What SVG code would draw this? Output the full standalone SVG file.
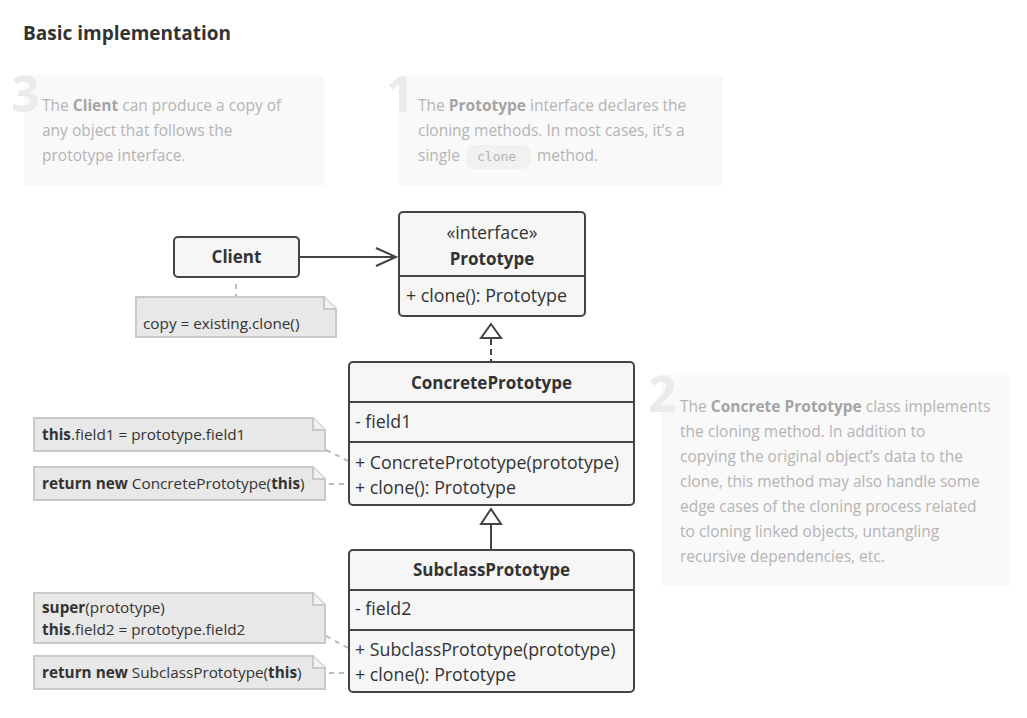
<svg xmlns="http://www.w3.org/2000/svg" width="1027" height="718" viewBox="0 0 1027 718">
<style>
.title{font-family:"Open Sans",Lato,sans-serif;font-weight:bold;font-size:19px;fill:#333}
.desc{font-family:"Open Sans",Lato,sans-serif;font-size:15.5px;fill:#b4b4b4}
.desc .b{font-weight:bold;fill:#a4a4a4}
.num{font-family:"Open Sans",Lato,sans-serif;font-weight:bold;font-size:50px;fill:#ebebeb}
.code{font-family:"DejaVu Sans Mono",monospace;font-size:13px;fill:#b4b4b4}
.panel{fill:#f9f9f9}
.box{fill:#f6f6f6;stroke:#444;stroke-width:2}
.div{stroke:#444;stroke-width:2}
.ct{font-family:"Open Sans",Lato,sans-serif;font-size:17.8px;fill:#333}
.ctb{font-family:"Open Sans",Lato,sans-serif;font-size:17px;font-weight:bold;fill:#333}
.note{fill:#e8e8e8;stroke:#c9c9c9;stroke-width:2}
.fold{fill:#f2f2f2;stroke:#c9c9c9;stroke-width:2}
.nt{font-family:"Open Sans",Lato,sans-serif;font-size:15.3px;fill:#333}
.nt .b{font-weight:bold}
.dash{stroke:#bbb;stroke-width:2;stroke-dasharray:5 5;fill:none}
.line{stroke:#444;stroke-width:2;fill:none}
</style>

<text class="title" x="23" y="40">Basic implementation</text>

<g id="desc3">
<rect class="panel" x="24" y="75" width="300" height="111"/>
<text class="num" x="11" y="112">3</text>
<text class="desc" x="42" y="111">The <tspan class="b">Client</tspan> can produce a copy of</text>
<text class="desc" x="42" y="136">any object that follows the</text>
<text class="desc" x="42" y="161">prototype interface.</text>
</g>

<g id="desc1">
<rect class="panel" x="399" y="75" width="324" height="111"/>
<text class="num" x="386" y="112">1</text>
<text class="desc" x="418" y="111">The <tspan class="b">Prototype</tspan> interface declares the</text>
<text class="desc" x="418" y="136">cloning methods. In most cases, it’s a</text>
<rect x="466" y="145" width="65" height="24" rx="8" fill="#f1f1f1"/>
<text class="desc" x="418" y="161">single</text>
<text class="code" x="477" y="161">clone</text>
<text class="desc" x="537" y="161">method.</text>
</g>

<g id="desc2">
<rect class="panel" x="661" y="375" width="349" height="211"/>
<text class="num" x="648" y="412">2</text>
<text class="desc" x="680" y="412">The <tspan class="b">Concrete Prototype</tspan> class implements</text>
<text class="desc" x="680" y="437">the cloning method. In addition to</text>
<text class="desc" x="680" y="462">copying the original object’s data to the</text>
<text class="desc" x="680" y="487">clone, this method may also handle some</text>
<text class="desc" x="680" y="512">edge cases of the cloning process related</text>
<text class="desc" x="680" y="537">to cloning linked objects, untangling</text>
<text class="desc" x="680" y="562">recursive dependencies, etc.</text>
</g>

<g id="connectors">
<line class="line" x1="300" y1="257" x2="396" y2="257"/>
<polyline class="line" points="376,248 396,257 376,266"/>
<line class="dash" x1="236" y1="284" x2="236" y2="297" stroke-dasharray="4 4"/>
<polygon points="491,324 501,338 481,338" fill="#fff" stroke="#444" stroke-width="2"/>
<line class="line" x1="491" y1="339" x2="491" y2="362" stroke-dasharray="6 4"/>
<polygon points="491,509 501,524 481,524" fill="#fff" stroke="#444" stroke-width="2"/>
<line class="line" x1="491" y1="525" x2="491" y2="550"/>
<line class="dash" x1="326" y1="450" x2="348" y2="461"/>
<line class="dash" x1="329" y1="484" x2="348" y2="484"/>
<line class="dash" x1="326" y1="636" x2="348" y2="648"/>
<line class="dash" x1="329" y1="673" x2="348" y2="673"/>
</g>

<g id="client">
<rect class="box" x="174" y="237" width="125" height="40" rx="4"/>
<text class="ctb" x="236.5" y="263" text-anchor="middle">Client</text>
</g>

<g id="note-client">
<path class="note" d="M136,297 H324 L336,309 V337 H136 Z"/>
<path class="fold" d="M324,297 V309 H336"/>
<text class="nt" x="143" y="329">copy = existing.clone()</text>
</g>

<g id="prototype">
<rect class="box" x="399" y="212" width="186" height="104" rx="4"/>
<line class="div" x1="399" y1="276" x2="585" y2="276"/>
<text class="ct" x="492" y="239" text-anchor="middle">«interface»</text>
<text class="ctb" x="492" y="265" text-anchor="middle">Prototype</text>
<text class="ct" x="406" y="302">+ clone(): Prototype</text>
</g>

<g id="concrete">
<rect class="box" x="349" y="362" width="285" height="143" rx="4"/>
<line class="div" x1="349" y1="402" x2="634" y2="402"/>
<line class="div" x1="349" y1="442" x2="634" y2="442"/>
<text class="ctb" x="491.5" y="389" text-anchor="middle">ConcretePrototype</text>
<text class="ct" x="355" y="428">- field1</text>
<text class="ct" x="355" y="469">+ ConcretePrototype(prototype)</text>
<text class="ct" x="355" y="494">+ clone(): Prototype</text>
</g>

<g id="subclass">
<rect class="box" x="349" y="550" width="285" height="142" rx="4"/>
<line class="div" x1="349" y1="590" x2="634" y2="590"/>
<line class="div" x1="349" y1="630" x2="634" y2="630"/>
<text class="ctb" x="491.5" y="576" text-anchor="middle">SubclassPrototype</text>
<text class="ct" x="355" y="615">- field2</text>
<text class="ct" x="355" y="656">+ SubclassPrototype(prototype)</text>
<text class="ct" x="355" y="681">+ clone(): Prototype</text>
</g>

<g id="note-field1">
<path class="note" d="M34,418 H313 L325,430 V451 H34 Z"/>
<path class="fold" d="M313,418 V430 H325"/>
<text class="nt" x="42" y="440"><tspan class="b">this</tspan>.field1 = prototype.field1</text>
</g>

<g id="note-concrete-clone">
<path class="note" d="M34,467 H313 L325,479 V500 H34 Z"/>
<path class="fold" d="M313,467 V479 H325"/>
<text class="nt" x="42" y="489"><tspan class="b">return new</tspan> ConcretePrototype(<tspan class="b">this</tspan>)</text>
</g>

<g id="note-field2">
<path class="note" d="M34,593 H313 L325,605 V643 H34 Z"/>
<path class="fold" d="M313,593 V605 H325"/>
<text class="nt" x="42" y="613"><tspan class="b">super</tspan>(prototype)</text>
<text class="nt" x="42" y="635"><tspan class="b">this</tspan>.field2 = prototype.field2</text>
</g>

<g id="note-subclass-clone">
<path class="note" d="M34,656 H313 L325,668 V689 H34 Z"/>
<path class="fold" d="M313,656 V668 H325"/>
<text class="nt" x="42" y="678"><tspan class="b">return new</tspan> SubclassPrototype(<tspan class="b">this</tspan>)</text>
</g>
</svg>
